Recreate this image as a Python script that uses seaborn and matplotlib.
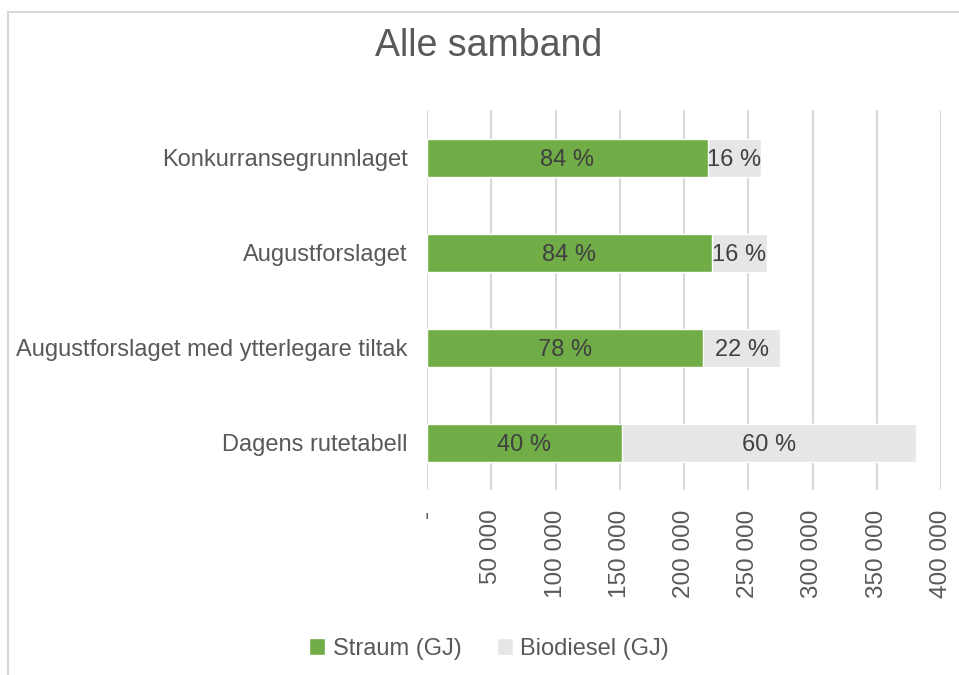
import seaborn as sns
import matplotlib.pyplot as plt
import pandas as pd
from matplotlib.patches import Rectangle

# data
scenarios = ['Konkurransegrunnlaget', 'Augustforslaget',
             'Augustforslaget med ytterlegare tiltak', 'Dagens rutetabell']
straum = [218500, 221500, 214500, 151500]
biodiesel = [41500, 43000, 60500, 229000]
xticks = [0, 50000, 100000, 150000, 200000, 250000, 300000, 350000, 400000]

green = '#70AD47'
grey = '#E7E6E6'
text_col = '#595959'

df = pd.DataFrame({'scenario': scenarios, 'straum': straum, 'biodiesel': biodiesel})
df['total'] = df['straum'] + df['biodiesel']

sns.set_style('white')
plt.rcParams['font.family'] = ['Liberation Sans', 'DejaVu Sans']

fig = plt.figure(figsize=(9.59, 6.75), dpi=100)
ax = fig.add_axes([427/959, 1-490/675, (941-427)/959, 380/675])

sns.barplot(data=df, y='scenario', x='total', color=grey, width=0.4,
            saturation=1, ax=ax, label='Biodiesel (GJ)')
sns.barplot(data=df, y='scenario', x='straum', color=green, width=0.4,
            saturation=1, ax=ax, label='Straum (GJ)')

# percentage labels
for i, row in df.iterrows():
    p1 = round(100 * row['straum'] / row['total'])
    p2 = 100 - p1
    ax.text(row['straum'] / 2, i + 0.03, f'{p1} %', ha='center', va='center',
            fontsize=17, color='#404040')
    ax.text(row['straum'] + row['biodiesel'] / 2, i + 0.03, f'{p2} %',
            ha='center', va='center', fontsize=17, color='#404040')

ax.set_xlim(0, 400000)
ax.set_xticks(xticks)
ax.set_xticklabels(['-'] + [f'{v:,}'.replace(',', ' ') for v in xticks[1:]],
                   rotation=90, fontsize=17.5, color=text_col)
ax.tick_params(axis='x', length=0, pad=14)
ax.tick_params(axis='y', length=0, pad=14, labelsize=17, labelcolor=text_col)
ax.set_xlabel('')
ax.set_ylabel('')
ax.set_ylim(3.5, -0.5)
ax.grid(False)
for v in xticks:
    ax.axvline(v, ymin=0, ymax=1, color='#D9D9D9', lw=1.5, zorder=0)
ax.set_axisbelow(True)
for s in ax.spines.values():
    s.set_visible(False)

fig.text(489/959, 1-46/675, 'Alle samband', ha='center', va='center',
         fontsize=27, color=text_col)

handles, labels = ax.get_legend_handles_labels()
order = [labels.index('Straum (GJ)'), labels.index('Biodiesel (GJ)')]
fig.legend([handles[k] for k in order], [labels[k] for k in order],
           loc='center', bbox_to_anchor=(489/959, 1-649/675), ncol=2,
           frameon=False, fontsize=17, labelcolor=text_col,
           handlelength=0.7, handleheight=0.7, handletextpad=0.3,
           columnspacing=1.5)
if ax.get_legend():
    ax.get_legend().remove()

fig.patches.append(Rectangle((8/959, -0.1), 1.2, 1.1 - 12/675,
                             transform=fig.transFigure, fill=False,
                             edgecolor='#D9D9D9', lw=1.5))

fig.savefig('out.png', dpi=100)
